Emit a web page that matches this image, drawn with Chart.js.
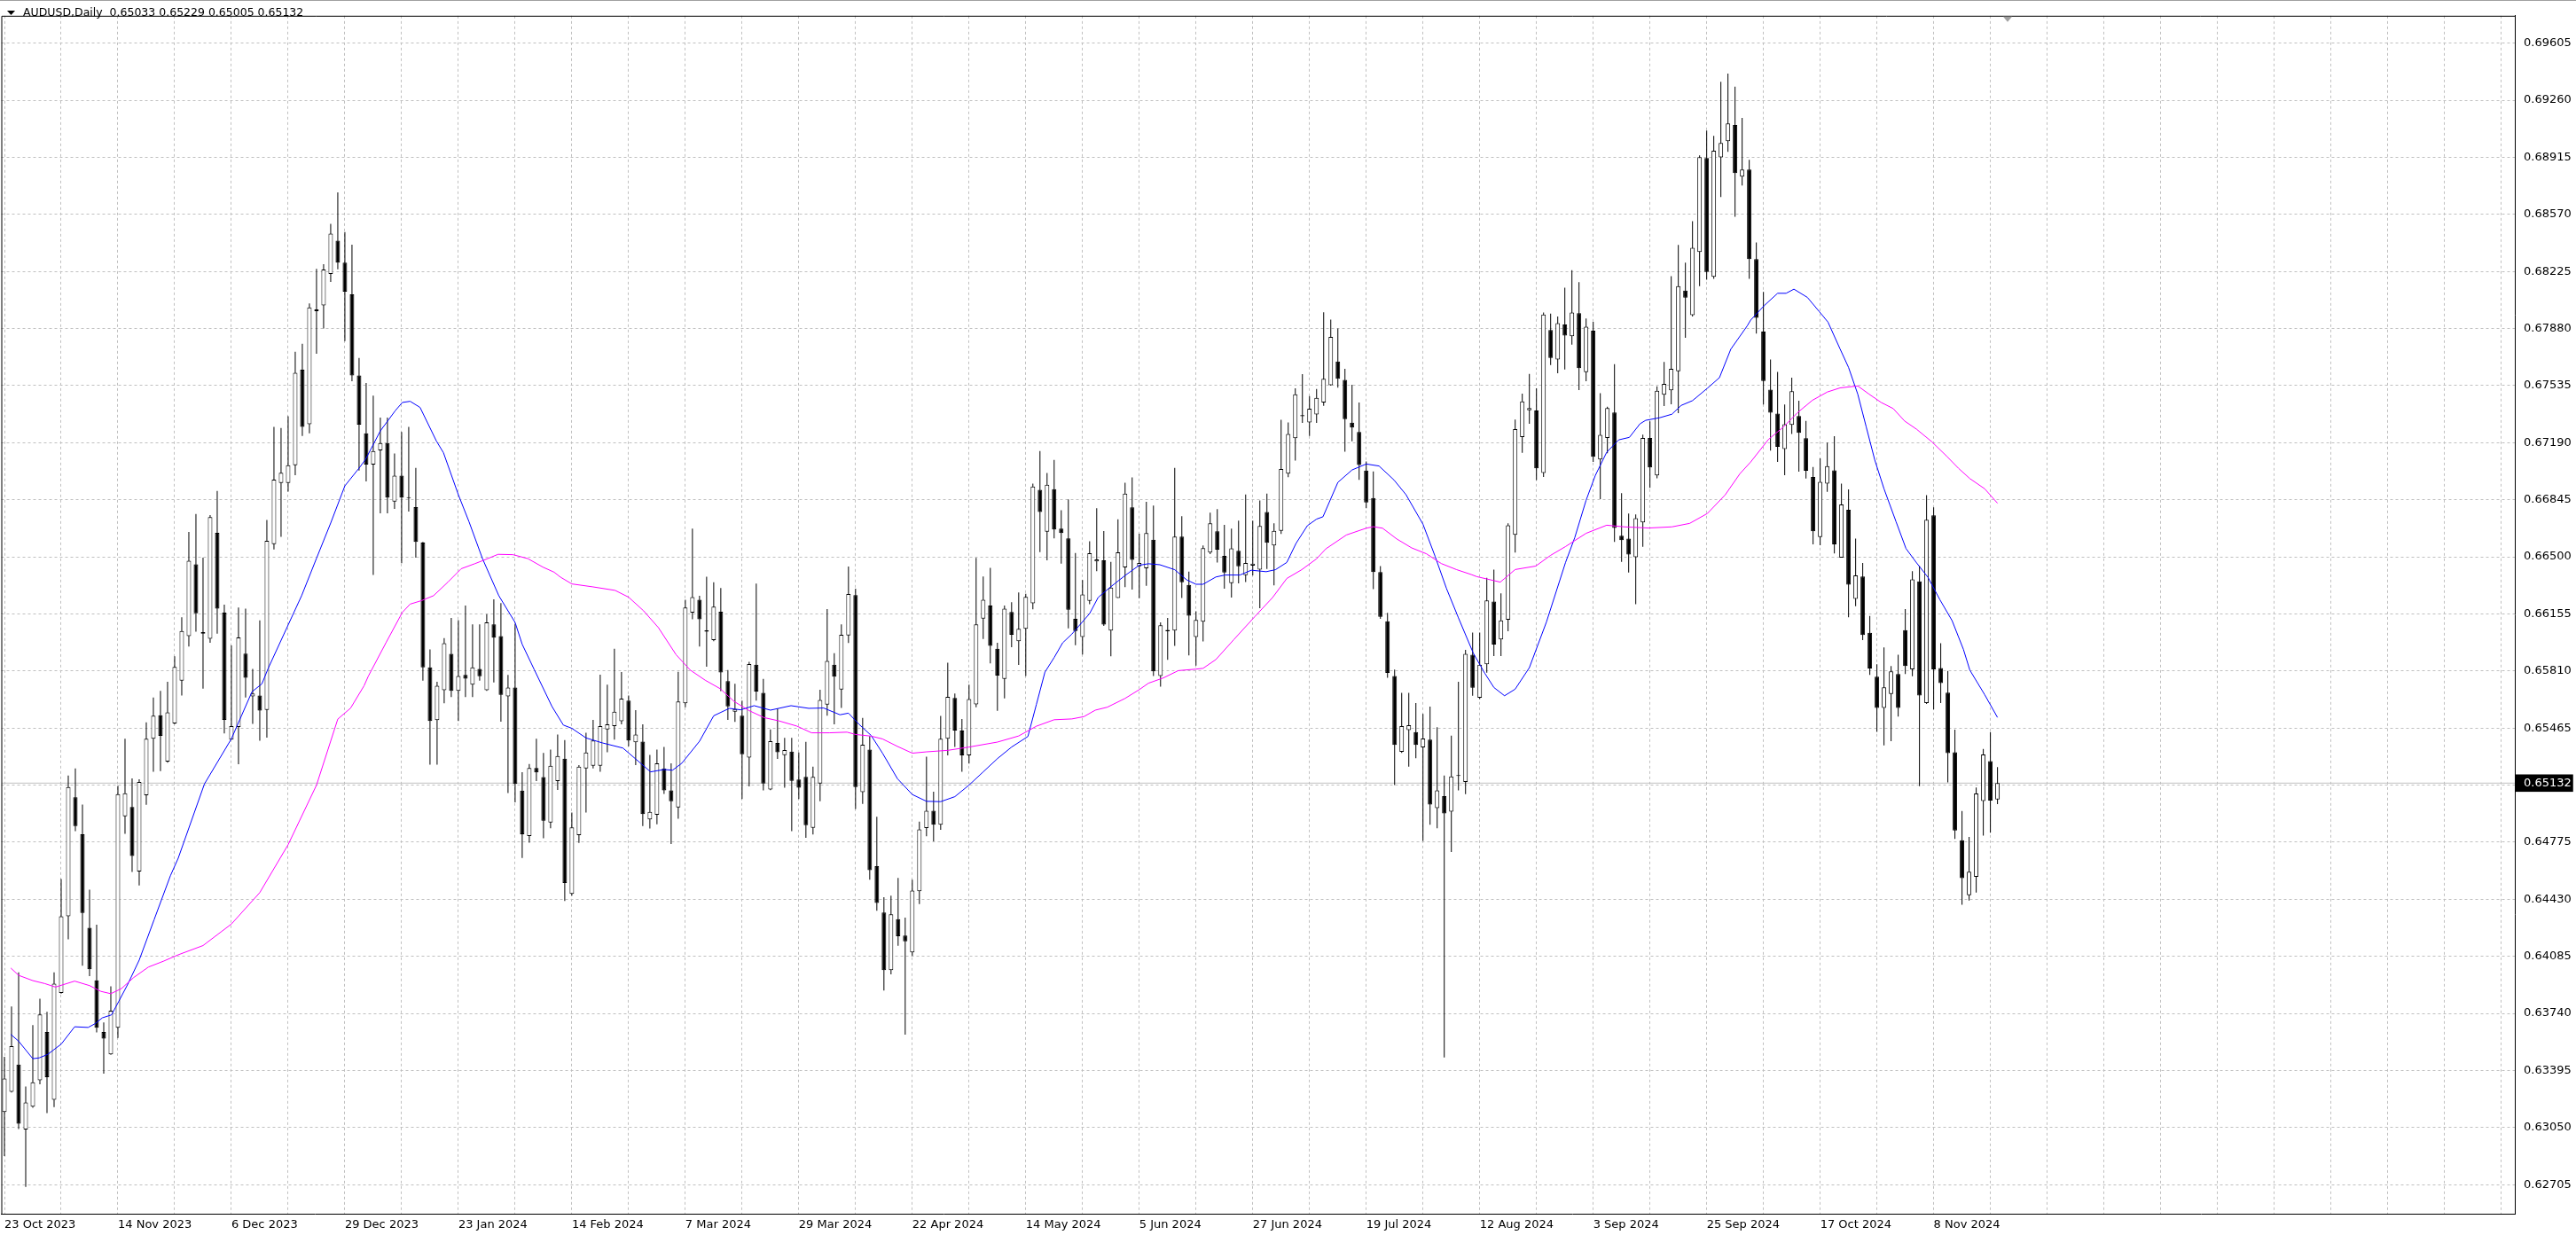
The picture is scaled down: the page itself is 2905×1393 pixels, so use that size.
<!DOCTYPE html>
<html lang="en">
<head>
  <meta charset="UTF-8">
  <title>AUDUSD, Daily</title>
  <script src="https://cdn.jsdelivr.net/npm/chart.js"></script>
  <style>
    html, body { margin: 0; padding: 0; background: #fff; }
    canvas { display: block; }
  </style>
</head>
<body>
  <canvas id="chart" width="2905" height="1393"></canvas>

  <script>
    // AUDUSD daily candles, one entry per trading day (bar 0 = 23 Oct 2023)
    const symbol = 'AUDUSD,Daily';
    const dates = ['23 Oct 2023', '14 Nov 2023', '6 Dec 2023', '29 Dec 2023', '23 Jan 2024', '14 Feb 2024',
      '7 Mar 2024', '29 Mar 2024', '22 Apr 2024', '14 May 2024', '5 Jun 2024', '27 Jun 2024', '19 Jul 2024',
      '12 Aug 2024', '3 Sep 2024', '25 Sep 2024', '17 Oct 2024', '8 Nov 2024'];
    const priceLevels = [0.69605, 0.69260, 0.68915, 0.68570, 0.68225, 0.67880, 0.67535, 0.67190, 0.66845,
      0.66500, 0.66155, 0.65810, 0.65465, 0.65120, 0.64775, 0.64430, 0.64085, 0.63740, 0.63395, 0.63050, 0.62705];
    const bid = 0.65132;

    const opens = [
      .63144,.63266,.63430,.63038,.63176,.63335,.63627,.63218,.63864,.64327,
      .65046,.64823,.64257,.63940,.63627,.63492,.63653,.64931,.64987,.64598,
      .65058,.65400,.65542,.65262,.65492,.65751,.66021,.66455,.66035,.66005,
      .66645,.66163,.65395,.65471,.65915,.65656,.65661,.65575,.66576,.66946,
      .66946,.67053,.67631,.67302,.67985,.68020,.68210,.68411,.68278,.68086,
      .67596,.67246,.67058,.67143,.67188,.66834,.66991,.66860,.66800,.66586,
      .65832,.65513,.65694,.65914,.65690,.65786,.65727,.65822,.65694,.66092,
      .66021,.65656,.65710,.65087,.64812,.65223,.65168,.64894,.65144,.65280,
      .64462,.64817,.65221,.65237,.65237,.65457,.65477,.65506,.65631,.65379,
      .65383,.64913,.64940,.65221,.65088,.64985,.65614,.66162,.66240,.66055,
      .65996,.66168,.65748,.65563,.65539,.65286,.65848,.65678,.65094,.65375,
      .65301,.65323,.65153,.65170,.64862,.65129,.65606,.65848,.65698,.66024,
      .66268,.65077,.65334,.64630,.64350,.64001,.64309,.64210,.64108,.64479,
      .64860,.64965,.64880,.65400,.65647,.65450,.65300,.65608,.66127,.66205,
      .65944,.65762,.66166,.65990,.66065,.66219,.66905,.66652,.66909,.66670,
      .66612,.66125,.66015,.66233,.66472,.66479,.66054,.66251,.66436,.66799,
      .66443,.66431,.66603,.65780,.66050,.66054,.66622,.66330,.66015,.66107,
      .66525,.66654,.66505,.66341,.66537,.66389,.66447,.66422,.66771,.66569,
      .66657,.67002,.67217,.67350,.67312,.67360,.67433,.67537,.67680,.67570,
      .67311,.67254,.67022,.66855,.66408,.66110,.65780,.65321,.65452,.65440,
      .65348,.65395,.64981,.65053,.64960,.65175,.65139,.65908,.65648,.65850,
      .66229,.66000,.66120,.66633,.67224,.67386,.67384,.67007,.67871,.67693,
      .67904,.67833,.67973,.67616,.67867,.67089,.67218,.67373,.66627,.66610,
      .66498,.66708,.67218,.66992,.67480,.67506,.67622,.68110,.67960,.68342,
      .68910,.68192,.68915,.69013,.69110,.68798,.68841,.68300,.67862,.67511,
      .67366,.67152,.67297,.67351,.67217,.66983,.66619,.66943,.67023,.66495,
      .66784,.66246,.66381,.66040,.65776,.65586,.65671,.65791,.66057,.65820,
      .66351,.65616,.66751,.65828,.65679,.65318,.64787,.64454,.64566,.65024,
      .65265,.65033
    ];
    const highs = [
      .63478,.63781,.63988,.63298,.63669,.63829,.63749,.63988,.64552,.65178,
      .65221,.65002,.64488,.64276,.63685,.63903,.65116,.65400,.65161,.65155,
      .65500,.65650,.65689,.65744,.65898,.66135,.66650,.66759,.66495,.66752,
      .66898,.66211,.65964,.66194,.66187,.65822,.66116,.66723,.67285,.67278,
      .67349,.67740,.67788,.68032,.68240,.68269,.68513,.68703,.68463,.68387,
      .67702,.67550,.67474,.67342,.67342,.67125,.67255,.67285,.67037,.66590,
      .65940,.65745,.66009,.66131,.66117,.66206,.66092,.66092,.66153,.66243,
      .66220,.65786,.66092,.65198,.65247,.65400,.65314,.65335,.65426,.65392,
      .64954,.65241,.65436,.65514,.65787,.65727,.65944,.65803,.65662,.65573,
      .65487,.65303,.65334,.65350,.65252,.65805,.66240,.66670,.66264,.66379,
      .66346,.66311,.65815,.65733,.65631,.65865,.66338,.65762,.65457,.65584,
      .65405,.65405,.65317,.65381,.65231,.65696,.66184,.65918,.66092,.66441,
      .66307,.65526,.65416,.64928,.64442,.64452,.64559,.64319,.64548,.64899,
      .65292,.65080,.65538,.65860,.65674,.65520,.65727,.66493,.66381,.66433,
      .65980,.66205,.66226,.66284,.66276,.66942,.67139,.67006,.67086,.66781,
      .66847,.66523,.66360,.66594,.66794,.66656,.66470,.66727,.66948,.66980,
      .66640,.66833,.66810,.66104,.66130,.67038,.66746,.66410,.66171,.66569,
      .66767,.66788,.66693,.66670,.66718,.66877,.66718,.66841,.66882,.66702,
      .67328,.67312,.67519,.67604,.67471,.67514,.67978,.67934,.67880,.67636,
      .67540,.67433,.67076,.67016,.66444,.66161,.65818,.65678,.65678,.65616,
      .65550,.65595,.65470,.65178,.65419,.65744,.65938,.66042,.66042,.66373,
      .66423,.66279,.66702,.67330,.67487,.67605,.67519,.67977,.67970,.67953,
      .68127,.68233,.68160,.67940,.67921,.67489,.67407,.67665,.66885,.66762,
      .66756,.67239,.67319,.67530,.67678,.68196,.68385,.68278,.68529,.68927,
      .69077,.69045,.69372,.69421,.69342,.69153,.68900,.68400,.68101,.67692,
      .67618,.67421,.67583,.67443,.67321,.67043,.67095,.67190,.67229,.66943,
      .66908,.66610,.66463,.66142,.65850,.65952,.65840,.65908,.66184,.66413,
      .66445,.66873,.66799,.65977,.65810,.65455,.64964,.64807,.65106,.65338,
      .65440,.65229
    ];
    const lows = [
      .62877,.63262,.63041,.62691,.63170,.63312,.63137,.63174,.63860,.64188,
      .64841,.64028,.63965,.63625,.63376,.63490,.63591,.64825,.64595,.64513,
      .65001,.65200,.65205,.65255,.65488,.65661,.65957,.66047,.65703,.65981,
      .66035,.65433,.65395,.65246,.65649,.65490,.65388,.65407,.66545,.66621,
      .66894,.66993,.67230,.67247,.67728,.67880,.68162,.68238,.67804,.67562,
      .67022,.66956,.66391,.66763,.66763,.66789,.66462,.66773,.66495,.65751,
      .65243,.65243,.65615,.65652,.65507,.65652,.65652,.65751,.65690,.65741,
      .65503,.65072,.65016,.64680,.64772,.65144,.64798,.64859,.65091,.64420,
      .64452,.64770,.64954,.65221,.65200,.65319,.65395,.65487,.65354,.65241,
      .64872,.64858,.64883,.65067,.64764,.64917,.65590,.66123,.65957,.65836,
      .65990,.65688,.65514,.65502,.65036,.65112,.65631,.65088,.65090,.65278,
      .65104,.64842,.65036,.64801,.64821,.65022,.65539,.65487,.65586,.65979,
      .64975,.65006,.64548,.64360,.63878,.63976,.64149,.63612,.64087,.64401,
      .64811,.64780,.64850,.65300,.65350,.65200,.65250,.65591,.66003,.65856,
      .65569,.65644,.65953,.65847,.65780,.66183,.66528,.66479,.66612,.66458,
      .66068,.65966,.65909,.66213,.66413,.66082,.65899,.66251,.66316,.66302,
      .66249,.66325,.65780,.65715,.65877,.65962,.66251,.65904,.65842,.65989,
      .66516,.66466,.66307,.66254,.66339,.66348,.66387,.66189,.66427,.66328,
      .66638,.66981,.67082,.67310,.67231,.67310,.67412,.67535,.67522,.67135,
      .67198,.66965,.66793,.66304,.66125,.65768,.65120,.65315,.65231,.65282,
      .64782,.64880,.64859,.63474,.64716,.65088,.65065,.65660,.65640,.65800,
      .65900,.65900,.66050,.66526,.67128,.67304,.66964,.66982,.67659,.67609,
      .67633,.67783,.67508,.67562,.67074,.66848,.67126,.66590,.66470,.66405,
      .66214,.66560,.66917,.66975,.67411,.67422,.67368,.67824,.67953,.68136,
      .68175,.68181,.68675,.68948,.68555,.68744,.68180,.67849,.67421,.67142,
      .67073,.66993,.67242,.67015,.66973,.66575,.66570,.66893,.66520,.66495,
      .66134,.66201,.65997,.65786,.65442,.65360,.65385,.65534,.65791,.65778,
      .65113,.65610,.65577,.65616,.65136,.64795,.64397,.64422,.64471,.64815,
      .64832,.65005
    ];
    const closes = [
      .63346,.63542,.63073,.63202,.63324,.63733,.63354,.63919,.64327,.65108,
      .64872,.64347,.64007,.63653,.63588,.63756,.65065,.65070,.64692,.65139,
      .65400,.65540,.65417,.65559,.65834,.66052,.66476,.66159,.66045,.66740,
      .66187,.65514,.65476,.66012,.65768,.65673,.65571,.66597,.66967,.67008,
      .67053,.67612,.67285,.68008,.67995,.68236,.68454,.68278,.68103,.67596,
      .67299,.67058,.67139,.67188,.66858,.66991,.66858,.66855,.66590,.65832,
      .65507,.65721,.65977,.65690,.65780,.65763,.65832,.65778,.66103,.66011,
      .65666,.65710,.65127,.64823,.65223,.65196,.64904,.65237,.65296,.64528,
      .64864,.65231,.65317,.65389,.65477,.65487,.65563,.65643,.65389,.65426,
      .64944,.64958,.65252,.65088,.65022,.65625,.66193,.66256,.66123,.66048,
      .66199,.65801,.65596,.65580,.65307,.65852,.65686,.65129,.65385,.65319,
      .65332,.65145,.65104,.64878,.65170,.65635,.65871,.65776,.66029,.66275,
      .65108,.65364,.64606,.64407,.64001,.64339,.64206,.64175,.64483,.64852,
      .64965,.64880,.65400,.65653,.65450,.65300,.65640,.66091,.66240,.65962,
      .65782,.66187,.66028,.66065,.66258,.66925,.66771,.66935,.66665,.66643,
      .66180,.66051,.66272,.66521,.66484,.66090,.66314,.66527,.66882,.66482,
      .66463,.66643,.65808,.66086,.66058,.66622,.66346,.66144,.66118,.66553,
      .66702,.66543,.66405,.66551,.66442,.66463,.66458,.66686,.66585,.66657,
      .67031,.67243,.67482,.67356,.67395,.67461,.67576,.67829,.67576,.67332,
      .67281,.67055,.66828,.66408,.66137,.65798,.65363,.65476,.65482,.65363,
      .65401,.65002,.65088,.64948,.65172,.65180,.65914,.65708,.65848,.66236,
      .65970,.66115,.66691,.67272,.67439,.67399,.67035,.67964,.67702,.67912,
      .67837,.67977,.67641,.67891,.67104,.67237,.67399,.66674,.66601,.66513,
      .66734,.67218,.67040,.67504,.67545,.67637,.68136,.68067,.68368,.68916,
      .68222,.68955,.69002,.69120,.68819,.68841,.68300,.67944,.67563,.67371,
      .67165,.67302,.67501,.67249,.67020,.66654,.66953,.67048,.66575,.66816,
      .66331,.66388,.66027,.65825,.65586,.65711,.65808,.65586,.65840,.66363,
      .65661,.66724,.65820,.65736,.65313,.64845,.64558,.64596,.65069,.65305,
      .65026,.65132
    ];

    // moving averages at these bar positions
    const fastMaX = [0.9, 2.0, 4.0, 4.9, 6.1, 8.0, 9.9, 11.8, 12.8, 13.8, 15.1, 16.1, 17.4, 19.0, 21.1, 23.4, 24.5,
      28.2, 32.0, 34.9, 36.3, 37.2, 40.0, 41.9, 44.0, 46.0, 48.0, 50.0,
      50.9, 53.0, 55.1, 56.1, 57.2, 58.6, 60.9, 61.9, 64.0, 65.5, 67.4, 69.7, 72.0, 73.0, 74.7, 77.2, 78.8, 80.0,
      82.0, 84.3, 87.2, 89.7, 91.1, 93.0, 94.2, 95.5, 98.0, 100.0, 102.2, 103.8, 105.7, 108.0, 110.9, 113.4, 115.5,
      117.8, 119.0, 120.5, 122.2, 123.8, 125.9, 128.0, 130.0,
      132, 134, 136, 138, 140, 142,
      144.3, 145.5, 146.7, 148.0, 149.2, 150.5, 153.0, 154.2, 155.9, 158.0, 160.0, 161.3, 162.9, 165.0, 166.7, 168.0,
      169.0, 170.8, 172.1, 174.2, 175.8, 177.9, 179.2, 180.8, 182.1, 183.7, 185.0,
      185.9, 188.0, 190.0, 192.0, 193.8, 195.9, 197.6, 200.0, 201.7, 203.3, 205.0, 207.1, 208.7,
      210, 211.5, 213, 215,
      217.4, 220.1, 221.4, 223.0, 224.3, 225.9, 227.6, 229.1, 230.6, 231.4, 233.4, 235.1, 236.4, 238.0, 240.1, 241.8,
      243.4, 245.7,
      246.2, 248.1, 250.0, 251.2, 252.3, 254.2, 255.9, 257.1, 258.8, 260.0, 261.3, 262.5, 263.7, 265.0, 266.7, 268.1,
      269.6, 271.2, 272.9, 274.6, 276.2, 277.1, 279.2, 281.0];
    const fastMa = [.63613, .63572, .63466, .63471, .63492, .63554, .63659, .63655, .63678, .63713, .63731, .63811, .63917, .64062, .64306, .64572, .64678,
      .65127, .65400, .65684, .65732, .65827, .66088, .66265, .66491, .66704, .66929, .67036,
      .67088, .67261, .67383, .67433, .67440, .67403, .67200, .67129, .66875, .66712, .66489, .66265, .66103, .65971, .65818, .65595, .65483, .65463,
      .65405, .65375, .65344, .65252, .65200, .65214, .65210, .65252, .65385, .65539, .65584, .65575, .65600, .65573, .65600, .65584, .65586,
      .65545, .65555, .65487, .65420, .65313, .65159, .65063, .65022,
      .6502, .6505, .6512, .6520, .6528, .6535,
      .65414, .65608, .65803, .65891, .65980, .66033, .66157, .66254, .66316, .66387, .66449, .66458, .66452, .66422, .66360, .66334,
      .66334, .66378, .66390, .66390, .66419, .66410, .66422, .66466, .66581, .66688, .66728,
      .66742, .66950, .67025, .67061, .67049, .66965, .66876, .66697, .66504, .66310, .66131, .65917, .65797,
      .6571, .6566, .6570, .6583,
      .66105, .66466, .66616, .66842, .66992, .67132, .67207, .67222, .67304, .67325, .67341, .67362, .67415, .67444, .67519, .67583,
      .67755, .67895,
      .67931, .68018, .68093, .68093, .68118, .68068, .67981, .67919, .67757, .67645, .67483, .67284, .67085, .66911, .66712, .66550,
      .66463, .66376, .66239, .66114, .65940, .65815, .65666, .65529];

    const slowMaX = [0.9, 2.0, 4.0, 5.7, 7.2, 9.9, 12.0, 13.6, 15.0, 16.5, 18.2, 20.3, 22.4, 24.5,
      28, 32, 36, 40,
      44.0, 47.0, 48.8, 50.7,
      51.3, 53.8, 56.1, 57.2, 58.8, 60.5, 62.5, 64.4, 66.3, 67.5, 69.6, 71.7, 73.8, 75.9, 77.5, 78.4, 80.0,
      83.0, 86.1, 88.0, 90.1, 92.2, 94.7, 96.7, 98.8, 100.9, 102.9, 105.0, 107.1, 109.2, 111.7, 113.8, 116.3, 118.8,
      120.0, 122.2, 123.8, 125.9, 128.0, 130.0,
      133, 136, 140,
      143.0, 145.5, 148.0, 150.5, 152.2, 153.8, 155.5, 158.0, 160.0, 161.3, 163.4, 165.5, 168.0, 169.0, 170.8, 173.3,
      176.3, 178.8, 180.8, 182.9, 185.0,
      186.3, 189.2, 192.0, 193.0, 194.3, 196.3, 198.4, 200.5, 202.6, 204.7, 206.8,
      207.6, 210.9, 213.0, 215.9, 218.0, 220.1, 223.0, 225.9, 228.4, 231.8, 235.1, 237.6, 240.1, 242.6, 244.7,
      246.2, 248.7, 250.8, 252.8, 254.9, 257.0, 258.8, 261.3, 262.9, 264.6, 266.3, 267.9, 269.6, 271.7, 273.8, 275.5,
      277.1, 279.2, 281.0];
    const slowMa = [.64014, .63970, .63938, .63920, .63899, .63935, .63908, .63873, .63859, .63890, .63956, .64020, .64055, .64094,
      .6415, .6428, .6447, .6476,
      .65120, .65519, .65585, .65720,
      .65778, .65981, .66164, .66214, .66235, .66265, .66346, .66428, .66458, .66478, .66515, .66513, .66489, .66438, .66407, .66377, .66336,
      .66318, .66297, .66256, .66174, .66072, .65908, .65815, .65754, .65703, .65625, .65570, .65528, .65508, .65477, .65436, .65436, .65440,
      .65426, .65416, .65399, .65354, .65313, .65321,
      .6533, .6535, .6538,
      .65417, .65476, .65515, .65520, .65534, .65573, .65591, .65644, .65697, .65736, .65768, .65812, .65821, .65826, .65879, .65998,
      .66139, .66254, .66369, .66422, .66488,
      .66548, .66632, .66673, .66682, .66673, .66608, .66554, .66518, .66459, .66423, .66393,
      .66380, .66347, .66423, .66444, .66509, .66562, .66642, .66691, .66681, .66674, .66681, .66702, .66762, .66874, .67003,
      .67073, .67209, .67284, .67371, .67446, .67496, .67521, .67533, .67483, .67433, .67396, .67321, .67271, .67197, .67110, .67035,
      .66973, .66911, .66824];

    // visible window (8 px per bar)
    const xMin = -0.4375, xMax = 353.9375;
    const yMin = 0.625289, yMax = 0.697705;
    const hiddenLevel = 0.65120;
    const near = (a, b) => Math.abs(a - b) < 1e-7;
    const last = opens.length - 1;

    const bars = opens.map((_, i) => i);
    const wicks = bars.map(i => ({ x: i, y: [lows[i], highs[i]] }));
    const bodies = bars.map(i => ({ x: i, y: [Math.min(opens[i], closes[i]), Math.max(opens[i], closes[i])] }));
    const bodyColors = bars.map(i => closes[i] >= opens[i] ? '#ffffff' : '#000000');
    const gridBars = Array.from({ length: 45 }, (_, k) => k * 8);
    const yTicks = priceLevels.concat([bid]).sort((a, b) => a - b);

    Chart.defaults.font.family = 'DejaVu Sans';
    Chart.defaults.font.size = 13;
    Chart.defaults.color = '#000';

    // frame, header line and shift marker, as in the terminal window
    const terminalLook = {
      id: 'terminalLook',
      beforeDraw(chart) {
        const ctx = chart.ctx;
        ctx.save();
        ctx.fillStyle = '#fff';
        ctx.fillRect(0, 0, chart.width, chart.height);
        ctx.restore();
      },
      afterDraw(chart) {
        const { ctx, chartArea: a } = chart;
        ctx.save();
        ctx.fillStyle = '#a0a0a0';
        ctx.fillRect(0, 0, chart.width, 1);
        ctx.strokeStyle = '#000';
        ctx.lineWidth = 1;
        ctx.beginPath();
        ctx.moveTo(a.left + 0.5, a.bottom);
        ctx.lineTo(a.left + 0.5, a.top + 0.5);
        ctx.lineTo(a.right, a.top + 0.5);
        ctx.stroke();

        ctx.fillStyle = '#000';
        ctx.beginPath();
        ctx.moveTo(8, 12); ctx.lineTo(17, 12); ctx.lineTo(12.5, 17);
        ctx.closePath();
        ctx.fill();
        ctx.font = '12.5px "DejaVu Sans"';
        ctx.textBaseline = 'middle';
        const ohlc = [opens[last], highs[last], lows[last], closes[last]].map(v => v.toFixed(5)).join(' ');
        ctx.fillText(symbol + '  ' + ohlc, 26, 15);

        const sx = Math.round(chart.scales.x.getPixelForValue(last + 1.45));
        ctx.fillStyle = '#a0a0a0';
        ctx.beginPath();
        ctx.moveTo(sx - 5, a.top + 1); ctx.lineTo(sx + 5, a.top + 1); ctx.lineTo(sx, a.top + 7);
        ctx.closePath();
        ctx.fill();
        ctx.restore();
      }
    };

    new Chart(document.getElementById('chart').getContext('2d'), {
      type: 'bar',
      data: {
        datasets: [
          {
            type: 'line', label: 'Bid', order: 5,
            data: [{ x: xMin, y: bid }, { x: xMax, y: bid }],
            borderColor: '#c0c0c0', borderWidth: 1, pointRadius: 0
          },
          {
            label: 'Range', order: 4, data: wicks,
            backgroundColor: '#000', borderWidth: 0, barThickness: 1,
            grouped: false, inflateAmount: 0
          },
          {
            label: 'Body', order: 3, data: bodies,
            backgroundColor: bodyColors, borderColor: '#000', borderWidth: 1, borderSkipped: false,
            barThickness: 5, grouped: false, inflateAmount: 0, minBarLength: 1
          },
          {
            type: 'line', label: 'MA fast', order: 2,
            data: fastMaX.map((x, k) => ({ x: x, y: fastMa[k] })),
            borderColor: '#0000ff', borderWidth: 1, pointRadius: 0, tension: 0
          },
          {
            type: 'line', label: 'MA slow', order: 1,
            data: slowMaX.map((x, k) => ({ x: x, y: slowMa[k] })),
            borderColor: '#ff00ff', borderWidth: 1, pointRadius: 0, tension: 0
          }
        ]
      },
      options: {
        responsive: false,
        devicePixelRatio: 1,
        animation: false,
        events: [],
        layout: { padding: { left: 1, top: 4, right: 0, bottom: 0 } },
        plugins: { legend: { display: false }, tooltip: { enabled: false } },
        scales: {
          x: {
            type: 'linear', position: 'bottom', min: xMin, max: xMax, offset: false,
            afterBuildTicks: axis => { axis.ticks = gridBars.map(v => ({ value: v })); },
            afterFit: axis => { axis.height = 24; },
            grid: { color: '#c0c0c0', drawTicks: false, offset: false },
            border: { display: true, color: '#000', width: 1, dash: [3, 3] },
            ticks: {
              autoSkip: false, maxRotation: 0, align: 'start', padding: 5,
              callback: v => (v % 16 === 0 && dates[v / 16]) ? dates[v / 16] : ''
            }
          },
          y: {
            type: 'linear', position: 'right', min: yMin, max: yMax, beginAtZero: false,
            afterBuildTicks: axis => { axis.ticks = yTicks.map(v => ({ value: v })); },
            afterFit: axis => { axis.width = 69; },
            grid: {
              color: c => near(c.tick.value, bid) ? 'rgba(0,0,0,0)' : '#c0c0c0',
              drawTicks: false
            },
            border: { display: true, color: '#000', width: 1, dash: [3, 3] },
            ticks: {
              autoSkip: false, padding: 10,
              color: c => near(c.tick.value, bid) ? '#fff' : '#000',
              showLabelBackdrop: c => near(c.tick.value, bid),
              backdropColor: '#000',
              backdropPadding: { left: 9, right: 2, top: 2, bottom: 2 },
              callback: v => near(v, hiddenLevel) ? '' : v.toFixed(5)
            }
          }
        }
      },
      plugins: [terminalLook]
    });
  </script>
</body>
</html>
